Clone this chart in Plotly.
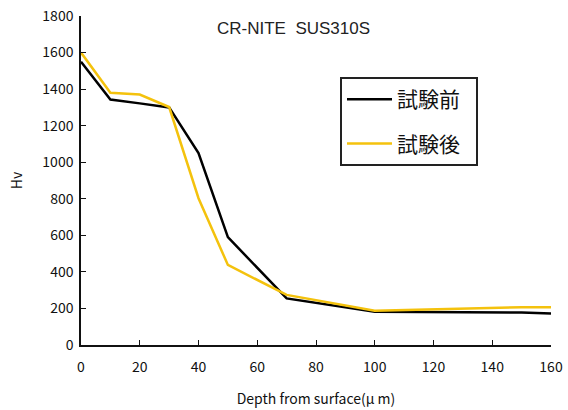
import plotly.graph_objects as go

depth = [0, 10, 20, 30, 40, 50, 70, 100, 150, 160]
before = [1550, 1343, 1322, 1300, 1050, 590, 255, 182, 178, 173]
after = [1600, 1380, 1370, 1302, 803, 438, 274, 188, 207, 206]
x_ticks = [0, 20, 40, 60, 80, 100, 120, 140, 160]
y_ticks = [0, 200, 400, 600, 800, 1000, 1200, 1400, 1600, 1800]
series_names = ["試験前", "試験後"]

font_jp = "Noto Sans CJK JP"
pad = "\u2002"

fig = go.Figure()
fig.add_trace(go.Scatter(x=depth, y=before, mode="lines", name=series_names[0] + pad,
                         legendgroup="a",
                         line=dict(color="#000000", width=2.5)))
fig.add_trace(go.Scatter(x=depth, y=after, mode="lines", name=series_names[1] + pad,
                         legendgroup="b",
                         line=dict(color="#F4C20D", width=2.5)))

fig.update_layout(
    width=568, height=410,
    margin=dict(l=81, r=17, t=16, b=65, autoexpand=False),
    paper_bgcolor="white", plot_bgcolor="white",
    font=dict(family=font_jp, color="#111111", size=14),
    showlegend=True,
    legend=dict(x=(340 - 81) / 470, y=(345 - 77) / 329, xanchor="left", yanchor="top",
                bordercolor="#222222", borderwidth=2, bgcolor="white",
                font=dict(family=font_jp, size=21, color="#111111"),
                itemwidth=45,
                tracegroupgap=14),
    xaxis=dict(range=[0, 160], tickvals=x_ticks, showgrid=False, zeroline=False,
               automargin=False, ticklabeloverflow="allow", ticklabelstandoff=8,
               showline=True, linecolor="#111111", linewidth=1.5,
               ticks="inside", ticklen=5, tickcolor="#111111",
               tickfont=dict(size=14),
               title=dict(text="Depth from surface(μ m)", font=dict(size=14), standoff=20)),
    yaxis=dict(range=[0, 1800], tickvals=y_ticks, showgrid=False, zeroline=False,
               automargin=False, ticklabeloverflow="allow", ticklabelstandoff=3,
               showline=True, linecolor="#111111", linewidth=1.5,
               ticks="inside", ticklen=5, tickcolor="#111111",
               tickfont=dict(size=14),
               title=dict(text="Hv", font=dict(size=14), standoff=16)),
)
fig.layout.annotations = [dict(text="CR-NITE  SUS310S",
                               x=(293 - 81) / 470, y=1 + (16 - 28) / 329,
                               xref="paper", yref="paper",
                               xanchor="center", yanchor="middle", showarrow=False,
                               font=dict(family="Liberation Sans", size=17, color="#222222"))]

# remove the default page margin so the figure fills the 568x410 window exactly
fig.write_html("out.html",
               config={"displayModeBar": False},
               post_script="document.body.style.margin='0';document.body.style.overflow='hidden';")
